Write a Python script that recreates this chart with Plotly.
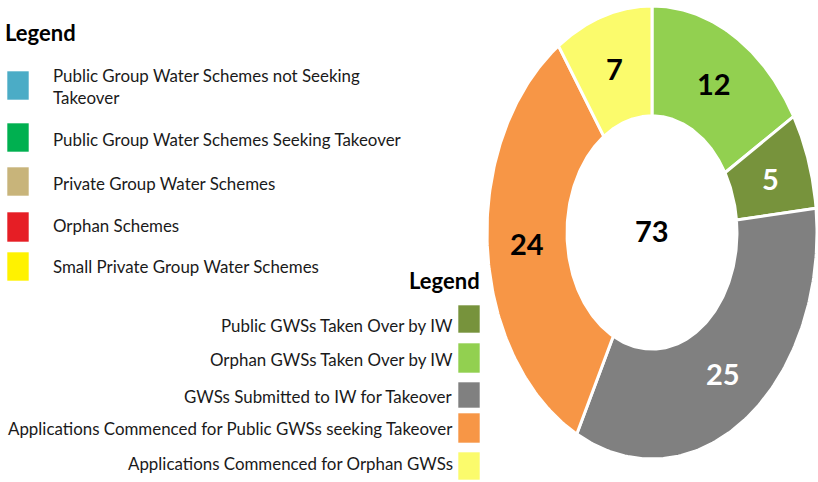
import numpy as np
import plotly.graph_objects as go

# ---------------- data ----------------
slice_labels = ["Orphan GWSs Taken Over by IW", "Public GWSs Taken Over by IW",
                "GWSs Submitted to IW for Takeover",
                "Applications Commenced for Public GWSs seeking Takeover",
                "Applications Commenced for Orphan GWSs"]
slice_values = [12, 5, 25, 24, 7]
slice_colors = ["#92D050", "#77933C", "#808080", "#F79646", "#FBFB6C"]
slice_text_colors = ["black", "white", "white", "black", "black"]

legend1_labels = ["Public Group Water Schemes not Seeking<br>Takeover",
                  "Public Group Water Schemes Seeking Takeover",
                  "Private Group Water Schemes",
                  "Orphan Schemes",
                  "Small Private Group Water Schemes"]
legend1_colors = ["#4BACC6", "#00B050", "#C8B47A", "#E61E25", "#FFF200"]

legend2_labels = ["Public GWSs Taken Over by IW", "Orphan GWSs Taken Over by IW",
                  "GWSs Submitted to IW for Takeover",
                  "Applications Commenced for Public GWSs seeking Takeover",
                  "Applications Commenced for Orphan GWSs"]
legend2_colors = ["#77933C", "#92D050", "#808080", "#F79646", "#FBFB6C"]

# ---------------- layout constants ----------------
W, H = 818, 482
HOLE = 0.515
FONT = "Lato, Liberation Sans, sans-serif"
TXT = 16.9

def px(x):
    return x / W

def py(y):
    return 1 - y / H

fig = go.Figure()

# donut drawn on its own axes (unit circle, stretched by axis domains)
total = sum(slice_values)
start = 0.0
for lab, v, c, tc in zip(slice_labels, slice_values, slice_colors, slice_text_colors):
    a0 = np.pi / 2 - 2 * np.pi * start / total
    a1 = np.pi / 2 - 2 * np.pi * (start + v) / total
    t = np.linspace(a0, a1, 120)
    xs = np.concatenate([np.cos(t), HOLE * np.cos(t[::-1]), [np.cos(t[0])]])
    ys = np.concatenate([np.sin(t), HOLE * np.sin(t[::-1]), [np.sin(t[0])]])
    fig.add_trace(go.Scatter(x=xs, y=ys, mode="lines", fill="toself",
                             fillcolor=c, line=dict(color="white", width=3),
                             name=lab, showlegend=False, hoverinfo="name"))
    am = (a0 + a1) / 2
    rm = (1 + HOLE) / 2
    fig.add_annotation(x=rm * np.cos(am), y=rm * np.sin(am), xref="x", yref="y",
                       text=f"<b>{v}</b>", showarrow=False,
                       font=dict(family=FONT, size=29, color=tc))
    start += v

fig.add_annotation(x=0, y=0.01, xref="x", yref="y", text=f"<b>{total}</b>",
                   showarrow=False, font=dict(family=FONT, size=29, color="black"))

# legend 1 (top-left)
fig.add_annotation(x=px(3), y=py(33), xref="paper", yref="paper", xanchor="left",
                   yanchor="middle", text="<b>Legend</b>", showarrow=False,
                   font=dict(family=FONT, size=22, color="black"))
rows1_sq = [(71, 100), (123, 152), (167, 196), (212, 242), (252, 281)]
rows1_txt = [86, 139, 183, 225, 266]
for lab, c, (y0, y1), ty in zip(legend1_labels, legend1_colors, rows1_sq, rows1_txt):
    fig.add_shape(type="rect", xref="paper", yref="paper",
                  x0=px(7), x1=px(29), y0=py(y1), y1=py(y0),
                  fillcolor=c, line=dict(color="rgba(255,255,255,0.6)", width=1))
    fig.add_annotation(x=px(51), y=py(ty), xref="paper", yref="paper",
                       xanchor="left", yanchor="middle", align="left",
                       text=lab, showarrow=False,
                       font=dict(family=FONT, size=TXT, color="#1a1a1a"))

# legend 2 (bottom-middle, right aligned)
fig.add_annotation(x=px(482), y=py(280), xref="paper", yref="paper", xanchor="right",
                   yanchor="middle", text="<b>Legend</b>", showarrow=False,
                   font=dict(family=FONT, size=22, color="black"))
rows2_sq = [(305, 333), (343, 373), (382, 408), (413, 443), (452, 480)]
rows2_txt = [325, 359, 396, 428, 463]
for lab, c, (y0, y1), ty in zip(legend2_labels, legend2_colors, rows2_sq, rows2_txt):
    fig.add_shape(type="rect", xref="paper", yref="paper",
                  x0=px(458), x1=px(480), y0=py(y1), y1=py(y0),
                  fillcolor=c, line=dict(color="rgba(255,255,255,0.6)", width=1))
    fig.add_annotation(x=px(455), y=py(ty), xref="paper", yref="paper",
                       xanchor="right", yanchor="middle", align="right",
                       text=lab, showarrow=False,
                       font=dict(family=FONT, size=TXT, color="#1a1a1a"))

fig.update_layout(
    width=W, height=H,
    margin=dict(l=0, r=0, t=0, b=0),
    paper_bgcolor="white", plot_bgcolor="white",
    showlegend=False,
    xaxis=dict(domain=[px(487), px(817)], range=[-1.0, 1.0], visible=False,
               fixedrange=True),
    yaxis=dict(domain=[py(459), py(6)], range=[-1.0, 1.0], visible=False,
               fixedrange=True),
)

fig.write_html("out.html")
